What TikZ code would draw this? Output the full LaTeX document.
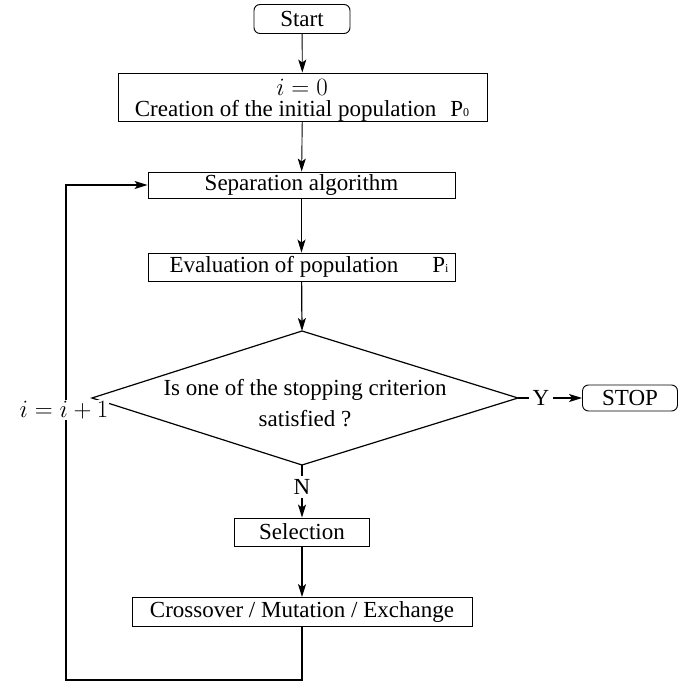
\documentclass[tikz,border=0pt]{standalone}
\usepackage{fontspec}
\setmainfont{Liberation Serif}
\usetikzlibrary{arrows.meta}
\begin{document}
\begin{tikzpicture}[x=1pt,y=-1pt,
  every node/.style={font=\fontsize{23}{25}\selectfont},
  box/.style={draw,line width=0.9pt,inner sep=0pt,anchor=center},
  rbox/.style={box,rounded corners=6pt},
  dia/.style={line width=1.2pt},
  conn/.style={line width=1.2pt},
  arr/.style={conn,-{Stealth[length=13pt,width=8pt,inset=3pt]}},
  mathlbl/.style={font=\fontsize{32}{34}\selectfont}]
\useasboundingbox (0,0) rectangle (688,682);
\node[rbox,minimum width=96pt,minimum height=29pt] (start) at (302,19) {Start};
\node[box,minimum width=369pt,minimum height=48pt] (init) at (302.5,97) {};
\node[mathlbl,inner sep=0pt] (i0) at (302,87) {$i=0$};
\node[inner sep=0pt] (cr) at (302,111) {Creation of the initial population\hspace{14pt}P{\fontsize{12}{12}\selectfont 0}};
\node[box,minimum width=307pt,minimum height=26pt] (sep) at (301.5,185) {Separation algorithm};
\node[box,minimum width=307pt,minimum height=28pt] (eval) at (301.5,267) {\hspace{15pt}Evaluation of population\hspace{34pt}P{\fontsize{12}{12}\selectfont i}};
\node[align=center] (dec) at (305,403) {Is one of the stopping criterion\\[6pt]satisfied ?};
\coordinate (dtop) at (302,331);
\coordinate (dbot) at (302,465);
\coordinate (dleft) at (92,398);
\coordinate (dright) at (518,398);
\draw[dia] (dtop) -- (dright) -- (dbot) -- (dleft) -- cycle;
\node (Y) at (541,398) {Y};
\node[rbox,minimum width=95pt,minimum height=26pt] (stop) at (630,398) {STOP};
\node (N) at (302,487) {N};
\node[box,minimum width=135pt,minimum height=28pt] (sel) at (302,532) {Selection};
\node[box,minimum width=340pt,minimum height=29pt] (cross) at (302,612) {Crossover / Mutation / Exchange};
\coordinate (c1) at (302,680);
\coordinate (c2) at (66,680);
\coordinate (c3) at (66,185);
\draw[arr,line width=0.9pt] (start) -- (init);
\draw[arr,line width=0.9pt] (init) -- (sep);
\draw[arr] (sep) -- (eval);
\draw[arr] (eval) -- (dtop);
\draw[conn] (dright) -- (Y.west);
\draw[arr] (Y.east) -- (stop.west);
\draw[conn] (dbot) -- (N.north);
\draw[arr] (N.south) -- (sel.north);
\draw[arr] (sel) -- (cross);
\draw[arr] (cross.south) -- (c1) -- (c2) -- (c3) -- (sep.west);
\node[mathlbl,fill=white,inner sep=1pt] (inc) at (64,410) {$i=i+1$};
\end{tikzpicture}
\end{document}
